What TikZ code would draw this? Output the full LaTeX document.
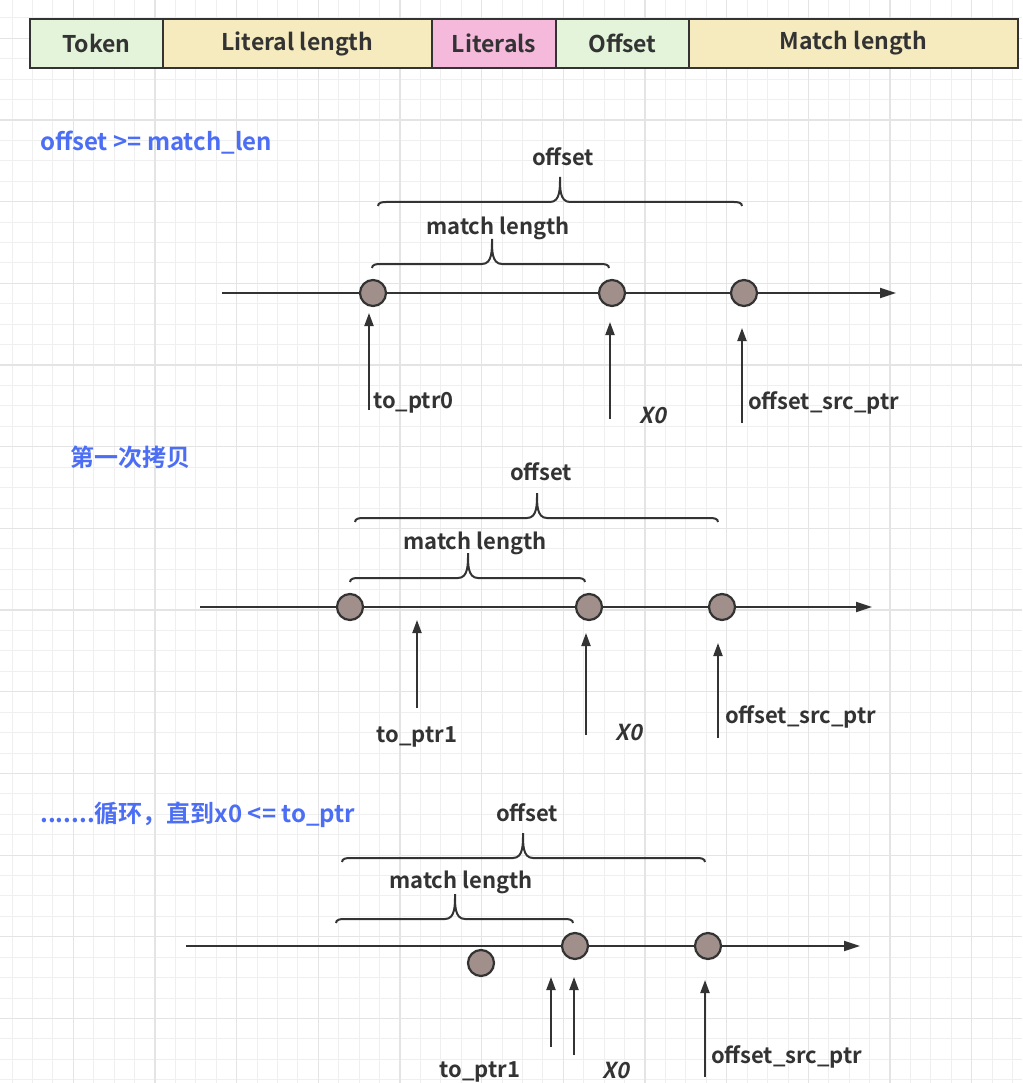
\documentclass[tikz,border=0pt]{standalone}
\usepackage{fontspec}
\setmainfont{Noto Sans CJK SC}[BoldFont={Noto Sans CJK SC Bold},
  ItalicFont={Noto Sans CJK SC}, ItalicFeatures={FakeSlant=0.2},
  BoldItalicFont={Noto Sans CJK SC Bold}, BoldItalicFeatures={FakeSlant=0.2}]
\usepackage{tikz}
\usetikzlibrary{positioning,arrows.meta}
\usepackage{xcolor}
\definecolor{lineclr}{HTML}{333333}
\definecolor{noteblue}{HTML}{4C6EF5}
\definecolor{dotfill}{HTML}{A08F8B}
\definecolor{cellgreen}{HTML}{E3F4DB}
\definecolor{cellyellow}{HTML}{F5EBBE}
\definecolor{cellpink}{HTML}{F4B9DB}
\definecolor{gridminor}{HTML}{EFEFEF}
\definecolor{gridmajor}{HTML}{E4E4E4}

% brace: left x, right x, tip x, bar y
\newcommand{\curlybrace}[4]{%
  \draw[brc] (#1,#4+4) to[out=90,in=180] (#1+8,#4) -- (#3-10,#4)
    to[out=0,in=-90] (#3,#4-25) to[out=-90,in=180] (#3+10,#4)
    -- (#2-8,#4) to[out=0,in=90] (#2,#4+4);}

\begin{document}
\begin{tikzpicture}[x=1pt, y=-1pt,
  cell/.style={draw=lineclr, line width=2pt, minimum height=49pt, outer sep=0pt,
               inner sep=0pt, font=\fontsize{23}{26}\selectfont\bfseries, text=lineclr},
  lbl/.style={font=\fontsize{22}{25}\selectfont\bfseries, text=lineclr, inner sep=0pt},
  note/.style={font=\fontsize{24}{28}\selectfont\bfseries, text=noteblue, inner sep=0pt, anchor=west},
  dot/.style={circle, draw=lineclr, line width=2.2pt, fill=dotfill, minimum size=26pt, inner sep=0pt},
  axis/.style={draw=lineclr, line width=2pt, -{Triangle[length=16pt,width=10pt]}},
  ptr/.style={draw=lineclr, line width=2pt, -{Triangle[length=13pt,width=9pt]}},
  brc/.style={draw=lineclr, line width=2pt},
  ]
  \fill[white] (0,0) rectangle (1022,1083);
  \useasboundingbox (0,0) rectangle (1022,1083);

  % grid
  \foreach \i in {-3,...,46}
    \draw[gridminor, line width=1pt] ({73.3+20.42*\i},0) -- ({73.3+20.42*\i},1083);
  \foreach \j in {-9,...,43}
    \draw[gridminor, line width=1pt] (0,{201.7+20.42*\j}) -- (1022,{201.7+20.42*\j});
  \foreach \i in {-4,0,...,44}
    \draw[gridmajor, line width=1.3pt] ({73.3+20.42*\i},0) -- ({73.3+20.42*\i},1083);
  \foreach \j in {-8,-4,...,40}
    \draw[gridmajor, line width=1.3pt] (0,{201.7+20.42*\j}) -- (1022,{201.7+20.42*\j});

  % sequence layout
  \node[cell, fill=cellgreen, minimum width=133pt, anchor=north west] (tok) at (30,19) {Token};
  \node[cell, fill=cellyellow, minimum width=269pt, right=0pt of tok] (litlen) {Literal length};
  \node[cell, fill=cellpink, minimum width=124pt, right=0pt of litlen] (lits) {Literals};
  \node[cell, fill=cellgreen, minimum width=133pt, right=0pt of lits] (off) {Offset};
  \node[cell, fill=cellyellow, minimum width=329pt, right=0pt of off] (mlen) {Match length};

  % case 1
  \node[note] (n1) at (40,143) {offset >= match\_len};
  \coordinate (s1) at (222,293);
  \coordinate (e1) at (896,293);
  \draw[axis] (s1) -- (e1);
  \node[dot] (a1) at (373,293) {};
  \node[dot] (a2) at (612,293) {};
  \node[dot] (a3) at (744,293) {};
  \curlybrace{378}{742}{560}{202}
  \curlybrace{372}{609}{492}{264}
  \node[lbl] (ao) at (563,157) {offset};
  \node[lbl] (am) at (498,228) {match length};
  \coordinate (pa1) at (369,410); \coordinate (qa1) at (369,313);
  \coordinate (pa2) at (610,419); \coordinate (qa2) at (610,322);
  \coordinate (pa3) at (742,423); \coordinate (qa3) at (742,328);
  \draw[ptr] (pa1) -- (qa1);
  \draw[ptr] (pa2) -- (qa2);
  \draw[ptr] (pa3) -- (qa3);
  \node[lbl, anchor=west] (ta1) at (373,403) {to\_ptr0};
  \node[lbl] (ta2) at (653,416) {\textit{X0}};
  \node[lbl, anchor=west] (ta3) at (748,403) {offset\_src\_ptr};

  % case 2
  \node[note] (n2) at (70,457) {第一次拷贝};
  \coordinate (s2) at (200,607);
  \coordinate (e2) at (872,607);
  \draw[axis] (s2) -- (e2);
  \node[dot] (b1) at (350,607) {};
  \node[dot] (b2) at (589,607) {};
  \node[dot] (b3) at (722,607) {};
  \curlybrace{355}{718}{537}{518}
  \curlybrace{350}{585}{468}{578}
  \node[lbl] (bo) at (541,472) {offset};
  \node[lbl] (bm) at (475,543) {match length};
  \coordinate (pb1) at (417,708); \coordinate (qb1) at (417,620);
  \coordinate (pb2) at (586,735); \coordinate (qb2) at (586,633);
  \coordinate (pb3) at (718,738); \coordinate (qb3) at (718,643);
  \draw[ptr] (pb1) -- (qb1);
  \draw[ptr] (pb2) -- (qb2);
  \draw[ptr] (pb3) -- (qb3);
  \node[lbl] (tb1) at (417,737) {to\_ptr1};
  \node[lbl] (tb2) at (629,732) {\textit{X0}};
  \node[lbl, anchor=west] (tb3) at (725,717) {offset\_src\_ptr};

  % case 3
  \node[note] (n3) at (40,815) {.......循环，直到x0 <= to\_ptr};
  \coordinate (s3) at (186,946);
  \coordinate (e3) at (860,946);
  \draw[axis] (s3) -- (e3);
  \node[dot] (c1) at (481,963) {};
  \node[dot] (c2) at (575,946) {};
  \node[dot] (c3) at (708,946) {};
  \curlybrace{342}{705}{523}{858}
  \curlybrace{336}{573}{455}{919}
  \node[lbl] (co) at (527,813) {offset};
  \node[lbl] (cm) at (461,882) {match length};
  \coordinate (pc1) at (551,1047); \coordinate (qc1) at (551,977);
  \coordinate (pc2) at (574,1055); \coordinate (qc2) at (574,977);
  \coordinate (pc3) at (705,1077); \coordinate (qc3) at (705,980);
  \draw[ptr] (pc1) -- (qc1);
  \draw[ptr] (pc2) -- (qc2);
  \draw[ptr] (pc3) -- (qc3);
  \node[lbl] (tc1) at (480,1072) {to\_ptr1};
  \node[lbl] (tc2) at (616,1070) {\textit{X0}};
  \node[lbl, anchor=west] (tc3) at (711,1057) {offset\_src\_ptr};
\end{tikzpicture}
\end{document}
